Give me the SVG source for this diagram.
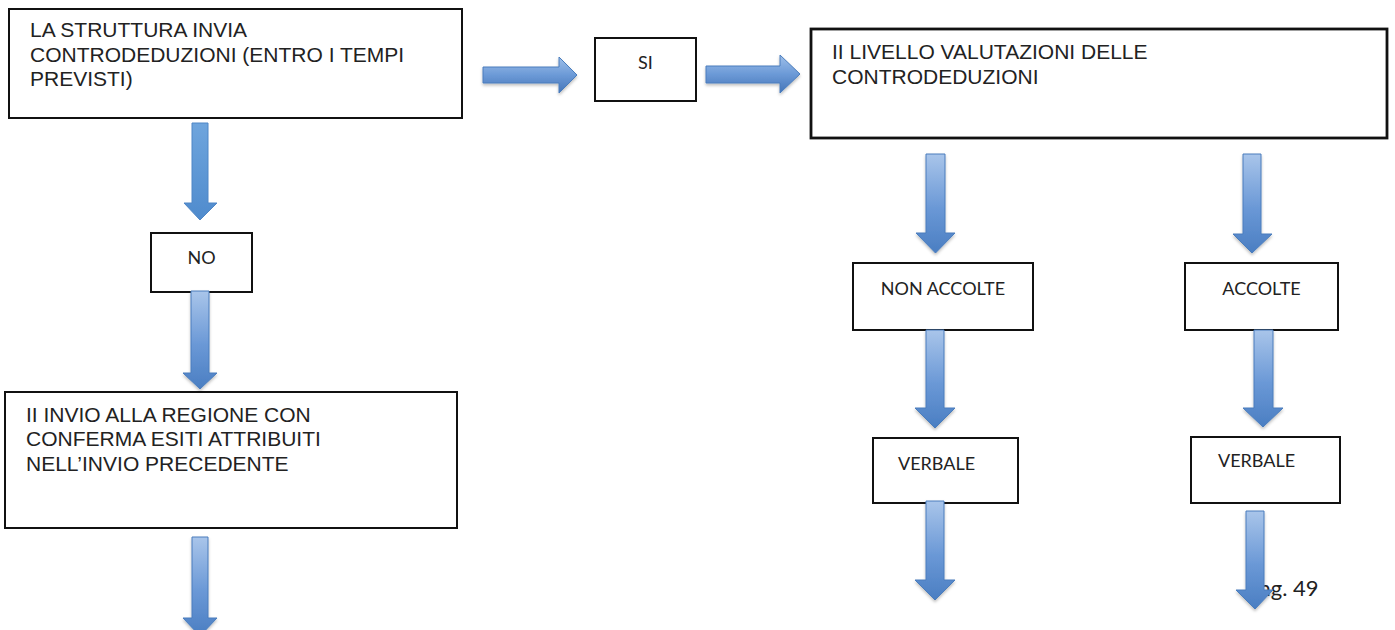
<svg xmlns="http://www.w3.org/2000/svg" width="1395" height="630" viewBox="0 0 1395 630">
  <style>
    .box { fill: #ffffff; stroke: #111111; stroke-width: 2; }
    .box-heavy { fill: #ffffff; stroke: #111111; stroke-width: 2.8; }
    .big { font-family: "Liberation Sans", Arial, sans-serif; font-size: 21px; fill: #222222; }
    .small { font-family: Lato, "Liberation Sans", sans-serif; font-size: 18px; fill: #222222; }
    .page { font-family: Lato, "Liberation Sans", sans-serif; font-size: 22px; fill: #222222; }
    .arrow-v { fill: url(#gradV); stroke: #4a7dbd; stroke-width: 1; filter: url(#shadow); }
    .arrow-flat { fill: url(#gradFlat); stroke: #4f86c6; stroke-width: 1; }
    .arrow-h { fill: url(#gradH); stroke: #4a7dbd; stroke-width: 1; filter: url(#shadow); }
  </style>
  <defs>
    <!-- block arrows: light at the tail, darker at the head -->
    <linearGradient id="gradV" x1="0" y1="0" x2="0" y2="1">
      <stop offset="0" stop-color="#a9c5ea"/>
      <stop offset="0.55" stop-color="#6a98d6"/>
      <stop offset="1" stop-color="#4a7ec2"/>
    </linearGradient>
    <linearGradient id="gradFlat" x1="0" y1="0" x2="0" y2="1">
      <stop offset="0" stop-color="#6fa5dd"/>
      <stop offset="1" stop-color="#4f8bcd"/>
    </linearGradient>
    <linearGradient id="gradH" x1="0" y1="0" x2="0" y2="1">
      <stop offset="0" stop-color="#9ebfe9"/>
      <stop offset="0.5" stop-color="#6c9ad7"/>
      <stop offset="1" stop-color="#4575b8"/>
    </linearGradient>
    <filter id="shadow" x="-30%" y="-10%" width="160%" height="130%">
      <feDropShadow dx="0" dy="2" stdDeviation="1.5" flood-color="#000000" flood-opacity="0.25"/>
    </filter>
  </defs>

  <rect width="1395" height="630" fill="#ffffff"/>

  <!-- page number, partly covered by the last arrow -->
  <text class="page" x="1247" y="596">Pag. 49</text>

  <g id="node-struttura">
    <rect class="box" x="9" y="9" width="453" height="109"/>
    <text class="big" x="30" y="37">LA STRUTTURA INVIA</text>
    <text class="big" x="30" y="62">CONTRODEDUZIONI (ENTRO I TEMPI</text>
    <text class="big" x="30" y="86">PREVISTI)</text>
  </g>

  <g id="node-si">
    <rect class="box" x="595" y="38" width="101" height="63"/>
    <text class="small" x="645.5" y="69" text-anchor="middle">SI</text>
  </g>

  <g id="node-livello">
    <rect class="box-heavy" x="811" y="29" width="576" height="109"/>
    <text class="big" x="832" y="59">II LIVELLO VALUTAZIONI DELLE</text>
    <text class="big" x="832" y="84">CONTRODEDUZIONI</text>
  </g>

  <g id="node-no">
    <rect class="box" x="151" y="233" width="101" height="59"/>
    <text class="small" x="201.5" y="264" text-anchor="middle">NO</text>
  </g>

  <g id="node-invio">
    <rect class="box" x="5" y="392" width="452" height="136"/>
    <text class="big" x="26" y="422">II INVIO ALLA REGIONE CON</text>
    <text class="big" x="26" y="446">CONFERMA ESITI ATTRIBUITI</text>
    <text class="big" x="26" y="471">NELL’INVIO PRECEDENTE</text>
  </g>

  <g id="node-non-accolte">
    <rect class="box" x="853" y="263" width="180" height="67"/>
    <text class="small" x="943" y="295" text-anchor="middle">NON ACCOLTE</text>
  </g>

  <g id="node-accolte">
    <rect class="box" x="1185" y="263" width="153" height="67"/>
    <text class="small" x="1261.5" y="295" text-anchor="middle">ACCOLTE</text>
  </g>

  <g id="node-verbale-1">
    <rect class="box" x="873" y="438" width="145" height="65"/>
    <text class="small" x="898" y="470">VERBALE</text>
  </g>

  <g id="node-verbale-2">
    <rect class="box" x="1191" y="437" width="149" height="66"/>
    <text class="small" x="1218" y="467">VERBALE</text>
  </g>

  <g id="connectors">
    <!-- horizontal block arrows -->
    <path class="arrow-h" d="M483,67 H559 V57 L577,75 L559,93 V83 H483 Z"/>
    <path class="arrow-h" d="M706,66 H780 V55 L800,74 L780,93 V83 H706 Z"/>
    <!-- left column -->
    <path class="arrow-flat" d="M192,123 H208 V203 H217 L200,220 L184,203 H192 Z"/>
    <path class="arrow-v" d="M191,291 H209 V373 H217 L200,389 L183,373 H191 Z"/>
    <path class="arrow-v" d="M192,537 H208 V618 H217 L200,636 L183,618 H192 Z"/>
    <!-- right columns -->
    <path class="arrow-v" d="M926,154 H945 V233 H955 L935.5,253 L916,233 H926 Z"/>
    <path class="arrow-v" d="M1243,154 H1261 V234 H1272 L1252,253 L1233,234 H1243 Z"/>
    <path class="arrow-v" d="M926,330 H944 V408 H955 L935,428 L915,408 H926 Z"/>
    <path class="arrow-v" d="M926,501 H944 V580 H955 L935,600 L915,580 H926 Z"/>
    <path class="arrow-v" d="M1254,330 H1273 V408 H1283 L1263,427 L1243,408 H1254 Z"/>
    <path class="arrow-v" d="M1246,511 H1264 V590 H1273 L1255,609 L1236,590 H1246 Z"/>
  </g>
</svg>
